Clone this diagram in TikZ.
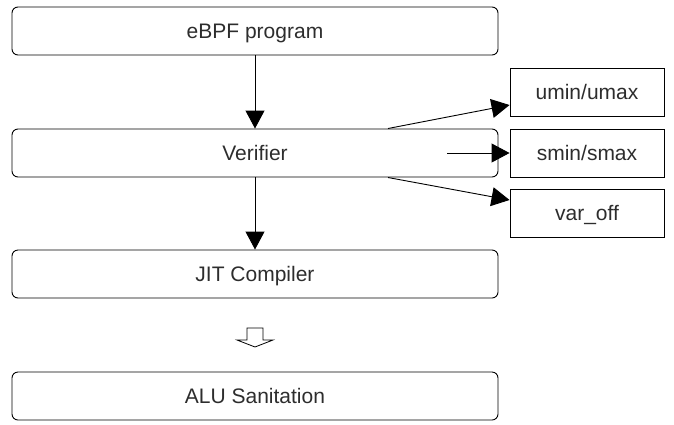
\documentclass[tikz,border=0pt]{standalone}
\usepackage{fontspec}
\setmainfont{Liberation Sans}
\usetikzlibrary{arrows.meta,positioning}

\definecolor{txtgray}{RGB}{45,45,45}
\tikzset{
  stage/.style={draw, rounded corners=6pt, minimum width=486pt, minimum height=48pt,
    inner sep=0pt, text height=14.8pt, text depth=0pt, text=txtgray,
    font=\fontsize{21}{25}\selectfont},
  field/.style={draw, minimum width=154pt, minimum height=48pt,
    inner sep=0pt, text height=14.8pt, text depth=0pt, text=txtgray,
    font=\fontsize{21}{25}\selectfont},
  flow/.style={line width=0.9pt, -{Triangle[length=18pt,width=19pt]}}
}

\begin{document}
\begin{tikzpicture}[x=1pt,y=-1pt,line width=0.9pt]
\useasboundingbox (0,0) rectangle (674,424);

\node[stage] (prog) at (255,31) {eBPF program};
\node[stage] (verif) at (255,153) {Verifier};
\node[stage] (jit) at (255,274) {JIT Compiler};
\node[stage] (alu) at (255,396) {ALU Sanitation};

\node[field] (umm) at (587,92) {umin/umax};
\node[field] (smm) at (587,153) {smin/smax};
\node[field] (voff) at (587,213) {var\_off};

\coordinate (vtop) at (388,128.5);
\coordinate (vmid) at (447,153);
\coordinate (vbot) at (388,177.5);

\draw[flow] (prog) -- (verif);
\draw[flow] (verif) -- (jit);
\draw[flow] (vtop) -- (umm.west |- 0,105);
\draw[flow] (vmid) -- (smm);
\draw[flow] (vbot) -- (voff.west |- 0,200);

% hollow arrow down to ALU Sanitation
\draw[line width=0.8pt, line join=miter] (247,328) -- (263,328) -- (263,340) -- (273,340)
  -- (255,347) -- (237,340) -- (247,340) -- cycle;
\end{tikzpicture}
\end{document}
